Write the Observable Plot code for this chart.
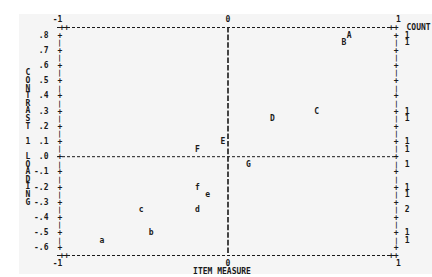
<!DOCTYPE html>
<html>
<head>
<meta charset="utf-8">
<script src="https://cdn.jsdelivr.net/npm/d3@7"></script>
<script src="https://cdn.jsdelivr.net/npm/@observablehq/plot@0.6"></script>
<style>
  html, body { margin: 0; padding: 0; background: #ffffff; }
  #wrap { position: relative; width: 432px; height: 277px; overflow: hidden; }
  #bg { position: absolute; left: 19px; top: 14px; width: 413px; height: 260px; background: #f5f5f5; }
  #chart { position: absolute; left: 0; top: 0; }
  #chart svg text { font-weight: bold; }
</style>
</head>
<body>
<div id="wrap"><div id="bg"></div><div id="chart"></div></div>
<script>
// Item labels, item measures (x) and contrast loadings (y)
const items    = ["A", "B", "C", "D", "E", "F", "G", "f", "e", "d", "c", "b", "a"];
const measures = [0.71, 0.68, 0.52, 0.26, -0.03, -0.18, 0.12, -0.18, -0.12, -0.18, -0.51, -0.45, -0.74];
const loadings = [0.80, 0.75, 0.30, 0.25, 0.10, 0.05, -0.05, -0.20, -0.25, -0.35, -0.35, -0.50, -0.55];

// Tick values
const xTicks = [-1, 0, 1];
const yTicks = [0.8, 0.7, 0.6, 0.5, 0.4, 0.3, 0.2, 0.1, 0.0, -0.1, -0.2, -0.3, -0.4, -0.5, -0.6];
const yDomain = [-0.65, 0.85];

// Titles
const yTitle = "CONTRAST 1 LOADING";
const xTitle = "ITEM MEASURE";
const countTitle = "COUNT";

const data = items.map((label, i) => ({label, x: measures[i], y: loadings[i]}));
const halfRows = d3.pairs(yTicks).map(([a, b]) => (a + b) / 2);
const yFmt = d => (d < 0 ? "-" : "") + "." + Math.round(Math.abs(d) * 10);

const font = "'DejaVu Sans Mono', 'Liberation Mono', monospace";
const ink = "#1a1a1a";
const T = {fill: ink, fontWeight: "bold"};

const chart = Plot.plot({
  width: 432,
  height: 277,
  marginLeft: 57,
  marginRight: 34,
  marginTop: 27,
  marginBottom: 22,
  style: {background: "transparent", fontFamily: font, fontWeight: "bold", fontSize: "8px", color: ink},
  x: {domain: [-1, 1]},
  y: {domain: yDomain},
  marks: [
    // top & bottom borders and zero lines
    Plot.ruleY(yDomain, {stroke: ink, strokeWidth: 1, strokeDasharray: "3,2"}),
    Plot.ruleY([0], {stroke: ink, strokeWidth: 1, strokeDasharray: "3,2"}),
    Plot.ruleX([0], {stroke: ink, strokeWidth: 1.6, strokeDasharray: "5.6,2"}),
    // left and right borders built from + and | characters
    Plot.text(yTicks, {y: d => d, text: () => "+", frameAnchor: "left", ...T}),
    Plot.text(halfRows, {y: d => d, text: () => "|", frameAnchor: "left", fontSize: 7, ...T}),
    Plot.text(yTicks, {y: d => d, text: () => "+", frameAnchor: "right", ...T}),
    Plot.text(halfRows, {y: d => d, text: () => "|", frameAnchor: "right", fontSize: 7, ...T}),
    Plot.text(yDomain, {y: d => d, text: () => "++", frameAnchor: "left", dx: 2, ...T}),
    Plot.text(yDomain, {y: d => d, text: () => "++", frameAnchor: "right", dx: 0, ...T}),
    // axes
    Plot.axisY({ticks: yTicks, tickSize: 0, tickPadding: 9, tickFormat: yFmt, label: null, ...T}),
    Plot.axisX({ticks: xTicks, anchor: "top", tickSize: 0, tickPadding: 6, tickFormat: d => String(d), label: null, ...T}),
    Plot.axisX({ticks: xTicks, anchor: "bottom", tickSize: 0, tickPadding: 5, tickFormat: d => String(d), label: null, ...T}),
    // titles
    Plot.text([yTitle.split("").join("\n")], {frameAnchor: "left", dx: -32, dy: -4, lineHeight: 0.95, ...T}),
    Plot.text([xTitle], {frameAnchor: "bottom", dy: 16, dx: -6, lineAnchor: "middle", ...T, style: "letter-spacing:1px"}),
    Plot.text([countTitle], {frameAnchor: "top-right", dx: 8, textAnchor: "start", lineAnchor: "middle", ...T}),
    // counts per row
    Plot.text(data, Plot.groupY({text: "count"}, {y: "y", frameAnchor: "right", dx: 11, ...T})),
    // item letters
    Plot.text(data, {x: "x", y: "y", text: "label", ...T})
  ]
});
document.getElementById("chart").appendChild(chart);
</script>
</body>
</html>
